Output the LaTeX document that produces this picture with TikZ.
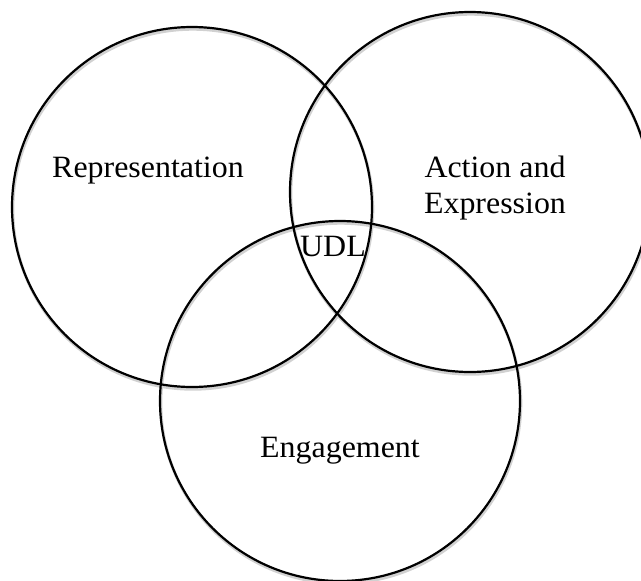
\documentclass[tikz,border=0pt]{standalone}
\usepackage{fontspec}
\setmainfont{Liberation Serif}
\begin{document}
\begin{tikzpicture}[x=1pt,y=-1pt,
  ring/.style={circle,draw=black,line width=2.2pt,minimum size=360pt,inner sep=0pt},
  ringshadow/.style={circle,draw=black!18,line width=3pt,minimum size=360pt,inner sep=0pt},
  lbl/.style={font=\fontsize{31}{36}\selectfont,inner sep=0pt,align=center,xscale=1.03}]
  \useasboundingbox (0,0) rectangle (641,581);
  % soft shadows under the rings
  \foreach \cx/\cy in {192/207, 470/192, 340/401}
    \node[ringshadow] at (\cx+0.8,\cy+2.2) {};
  % the three rings
  \node[ring] (rep) at (192,207) {};
  \node[ring] (act) at (470,192) {};
  \node[ring] (eng) at (340,401) {};
  % labels (a multi-line label sits on its last baseline)
  \node[lbl,anchor=base] (trep) at (148,177) {Representation};
  \node[lbl,anchor=base] (tact) at (495,213) {Action and\\Expression};
  \node[lbl,anchor=base] (tudl) at (333,256) {UDL};
  \node[lbl,anchor=base] (teng) at (340,457) {Engagement};
\end{tikzpicture}
\end{document}
